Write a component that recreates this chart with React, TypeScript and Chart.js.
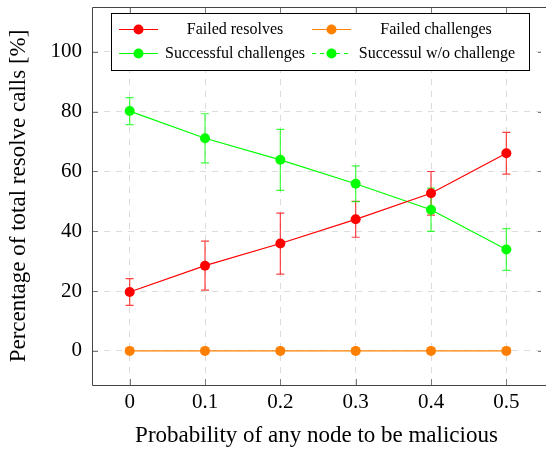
import React, { useEffect, useRef } from "react";
import { Chart, registerables } from "chart.js";

Chart.register(...registerables);

const xValues = [0, 0.1, 0.2, 0.3, 0.4, 0.5];
const xTickLabels = ["0", "0.1", "0.2", "0.3", "0.4", "0.5"];
const yTicks = [0, 20, 40, 60, 80, 100];

const failedResolves = [19.7, 28.5, 35.9, 44.0, 52.7, 66.1];
const failedResolvesErr = [4.5, 8.2, 10.2, 6.0, 7.3, 7.0];
const failedChallenges = [0, 0, 0, 0, 0, 0];
const successfulChallenges = [80.2, 71.1, 63.9, 55.9, 47.2, 33.9];
const successfulChallengesErr = [4.5, 8.2, 10.2, 6.0, 7.2, 7.0];
const successfulWithout: number[] = [];

const labels = ["Failed resolves", "Failed challenges", "Successful challenges", "Successul w/o challenge"];
const FONT = "'Liberation Serif', 'Times New Roman', serif";

const RED = "#ff0000";
const ORANGE = "#ff8000";
const GREEN = "#00ff00";

const W = 546;
const H = 450;

const errorBarPlugin = {
  id: "errorBars",
  beforeDatasetsDraw(chart: any) {
    const ctx = chart.ctx;
    const y = chart.scales.y;
    chart.data.datasets.forEach((ds: any, i: number) => {
      if (!ds.errors) return;
      const meta = chart.getDatasetMeta(i);
      ctx.save();
      ctx.strokeStyle = ds.errorColor;
      ctx.lineWidth = 1.2;
      meta.data.forEach((pt: any, j: number) => {
        const v = ds.data[j].y;
        const e = ds.errors[j];
        const top = y.getPixelForValue(v + e);
        const bot = y.getPixelForValue(v - e);
        const x = pt.x;
        ctx.beginPath();
        ctx.moveTo(x, top);
        ctx.lineTo(x, bot);
        ctx.moveTo(x - 4, top);
        ctx.lineTo(x + 4, top);
        ctx.moveTo(x - 4, bot);
        ctx.lineTo(x + 4, bot);
        ctx.stroke();
      });
      ctx.restore();
    });
  },
};

const framePlugin = {
  id: "frame",
  beforeDatasetsDraw(chart: any) {
    const { ctx, chartArea: a, scales } = chart;
    ctx.save();
    ctx.strokeStyle = "#7a7a7a";
    ctx.lineWidth = 1;
    const L = 6;
    xValues.forEach((v) => {
      const px = Math.round(scales.x.getPixelForValue(v)) + 0.5;
      ctx.beginPath();
      ctx.moveTo(px, a.bottom);
      ctx.lineTo(px, a.bottom - L);
      ctx.moveTo(px, a.top);
      ctx.lineTo(px, a.top + L);
      ctx.stroke();
    });
    yTicks.forEach((v) => {
      const py = Math.round(scales.y.getPixelForValue(v)) + 0.5;
      ctx.beginPath();
      ctx.moveTo(a.left, py);
      ctx.lineTo(a.left + L, py);
      ctx.moveTo(a.right, py);
      ctx.lineTo(a.right - 3, py);
      ctx.stroke();
    });
    ctx.strokeStyle = "#444";
    const l = Math.round(a.left) + 0.5;
    const t = Math.round(a.top) + 0.5;
    const b = Math.round(a.bottom) + 0.5;
    ctx.beginPath();
    ctx.moveTo(a.right + 5, t);
    ctx.lineTo(l, t);
    ctx.lineTo(l, b);
    ctx.lineTo(a.right + 5, b);
    ctx.stroke();
    ctx.restore();
  },
};

const legendPlugin = {
  id: "boxLegend",
  afterDraw(chart: any) {
    const ctx = chart.ctx;
    const bx = 111, by = 13, bw = 418, bh = 57;
    ctx.save();
    ctx.fillStyle = "#ffffff";
    ctx.fillRect(bx, by, bw, bh);
    ctx.strokeStyle = "#000";
    ctx.lineWidth = 1;
    ctx.strokeRect(bx + 0.5, by + 0.5, bw, bh);
    const entries = [
      { ds: 0, sx: 119, tx: 235, y: 29 },
      { ds: 1, sx: 312, tx: 436, y: 29 },
      { ds: 2, sx: 119, tx: 235, y: 53 },
      { ds: 3, sx: 312, tx: 437, y: 53 },
    ];
    ctx.font = `16px ${FONT}`;
    ctx.textAlign = "center";
    ctx.textBaseline = "middle";
    entries.forEach((e) => {
      const ds = chart.data.datasets[e.ds];
      ctx.strokeStyle = ds.borderColor;
      ctx.lineWidth = 1;
      ctx.setLineDash(ds.borderDash || []);
      ctx.beginPath();
      ctx.moveTo(e.sx, e.y + 0.5);
      ctx.lineTo(e.sx + 39, e.y + 0.5);
      ctx.stroke();
      ctx.setLineDash([]);
      ctx.fillStyle = ds.backgroundColor;
      ctx.beginPath();
      ctx.arc(e.sx + 19.5, e.y + 0.5, 5, 0, Math.PI * 2);
      ctx.fill();
      ctx.fillStyle = "#000";
      ctx.fillText(ds.label, e.tx, e.y + 1);
    });
    ctx.restore();
  },
};

function toPoints(vals: number[]) {
  return vals.map((v, i) => ({ x: xValues[i], y: v }));
}

export default function App() {
  const ref = useRef<HTMLCanvasElement | null>(null);
  useEffect(() => {
    document.body.style.margin = "0";
    document.body.style.overflow = "hidden";
    const canvas = ref.current!;
    const chart = new Chart(canvas, {
      type: "line",
      data: {
        datasets: [
          {
            label: labels[0],
            data: toPoints(failedResolves),
            errors: failedResolvesErr,
            errorColor: "rgba(255,0,0,0.75)",
            borderColor: RED,
            backgroundColor: RED,
          },
          {
            label: labels[1],
            data: toPoints(failedChallenges),
            borderColor: ORANGE,
            backgroundColor: ORANGE,
          },
          {
            label: labels[2],
            data: toPoints(successfulChallenges),
            errors: successfulChallengesErr,
            errorColor: "rgba(0,255,0,0.75)",
            borderColor: GREEN,
            backgroundColor: GREEN,
          },
          {
            label: labels[3],
            data: toPoints(successfulWithout),
            borderColor: GREEN,
            backgroundColor: GREEN,
            borderDash: [4, 4],
          },
        ] as any,
      },
      options: {
        animation: false,
        responsive: false,
        layout: { padding: { top: 7, right: 0, left: 0, bottom: 0 } },
        elements: {
          line: { borderWidth: 1.2, tension: 0 },
          point: { radius: 5, borderWidth: 0, hoverRadius: 5 },
        },
        plugins: { legend: { display: false }, tooltip: { enabled: false } },
        scales: {
          x: {
            type: "linear",
            min: -0.05,
            max: 0.546,
            afterBuildTicks: (s: any) => {
              s.ticks = xValues.map((v) => ({ value: v }));
            },
            afterFit: (s: any) => {
              s.height = 65;
              s.paddingLeft = 0;
              s.paddingRight = 0;
            },
            ticks: {
              font: { family: FONT, size: 21 },
              color: "#000",
              padding: 5,
              maxRotation: 0,
              callback: (v: any) => {
                const i = xValues.findIndex((x) => Math.abs(x - v) < 1e-9);
                return i >= 0 ? xTickLabels[i] : "";
              },
            },
            grid: { color: "#dcdcdc", drawTicks: false, lineWidth: 1 },
            border: { display: false, dash: [6, 6] },
            title: {
              display: true,
              text: "Probability of any node to be malicious",
              font: { family: FONT, size: 23 },
              color: "#000",
              padding: { top: 0, bottom: 0 },
            },
          },
          y: {
            type: "linear",
            min: -11.4,
            max: 115,
            afterBuildTicks: (s: any) => {
              s.ticks = yTicks.map((v) => ({ value: v }));
            },
            afterFit: (s: any) => {
              s.width = 92;
              s.paddingTop = 0;
              s.paddingBottom = 0;
            },
            ticks: {
              font: { family: FONT, size: 21 },
              color: "#000",
              padding: 10,
            },
            grid: { color: "#dcdcdc", drawTicks: false, lineWidth: 1 },
            border: { display: false, dash: [6, 6] },
            title: {
              display: true,
              text: "Percentage of total resolve calls [%]",
              font: { family: FONT, size: 23 },
              color: "#000",
              padding: { top: 5, bottom: 0 },
            },
          },
        },
      } as any,
      plugins: [framePlugin, errorBarPlugin, legendPlugin],
    });
    return () => chart.destroy();
  }, []);
  return (
    <div style={{ width: W, height: H }}>
      <canvas ref={ref} width={W} height={H} style={{ width: W, height: H, display: "block" }} />
    </div>
  );
}
